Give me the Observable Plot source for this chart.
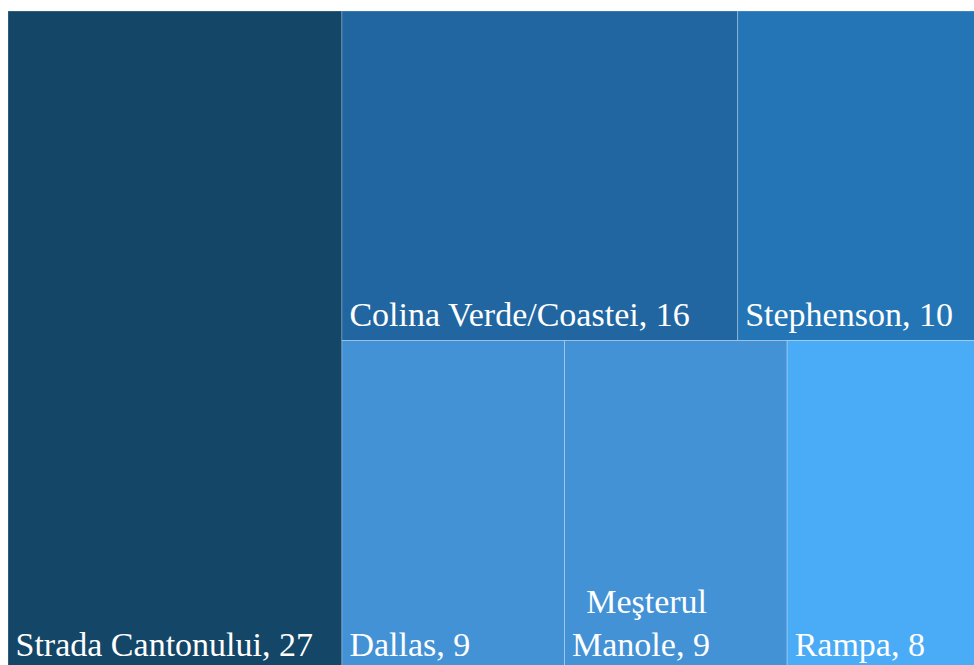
<!DOCTYPE html>
<html><head><meta charset="utf-8">
<script src="https://cdn.jsdelivr.net/npm/d3@7"></script>
<script src="https://cdn.jsdelivr.net/npm/@observablehq/plot@0.6"></script>
<style>html,body{margin:0;padding:0;overflow:hidden;background:#fff;}</style>
</head><body><div id="chart"></div>
<script>
const names = ["Strada Cantonului", "Colina Verde/Coastei", "Stephenson", "Dallas", "Meşterul Manole", "Rampa"];
const values = [27, 16, 10, 9, 9, 8];
const colors = ["#144668", "#2166a1", "#2475b5", "#4392d6", "#4392d6", "#4aabf6"];
const labels = ["Strada Cantonului, 27", "Colina Verde/Coastei, 16", "Stephenson, 10", "Dallas, 9", "\u00a0\u2006Meşterul\nManole, 9", "Rampa, 8"];

const W = 977, H = 659;
const root = d3.hierarchy({children: names.map((n, i) => ({name: n, value: values[i], color: colors[i], label: labels[i]}))})
  .sum(d => d.value || 0);
d3.treemap().tile(d3.treemapSquarify.ratio(1)).size([W, H])(root);
const tiles = root.leaves().map(l => ({x0: l.x0, x1: l.x1, y0: l.y0, y1: l.y1, color: l.data.color, label: l.data.label}));

const chart = Plot.plot({
  width: 986, height: 671,
  marginLeft: 8, marginTop: 11, marginRight: 1, marginBottom: 1,
  style: {maxWidth: "none", background: "#fff"},
  x: {domain: [0, W], range: [8, 985], axis: null},
  y: {domain: [0, H], range: [11, 670], axis: null},
  color: {type: "identity"},
  marks: [
    Plot.rect(tiles, {x1: "x0", x2: "x1", y1: "y0", y2: "y1", fill: "color", stroke: "#ffffff", strokeOpacity: 0.25, strokeWidth: 1}),
    Plot.text(tiles, {x: "x0", y: "y1", text: "label", textAnchor: "start", lineAnchor: "bottom", dx: 7, dy: -15, fill: "white", fontSize: 34, fontFamily: "Liberation Serif", lineHeight: 1.24})
  ]
});
document.getElementById("chart").appendChild(chart);
</script>
</body></html>
